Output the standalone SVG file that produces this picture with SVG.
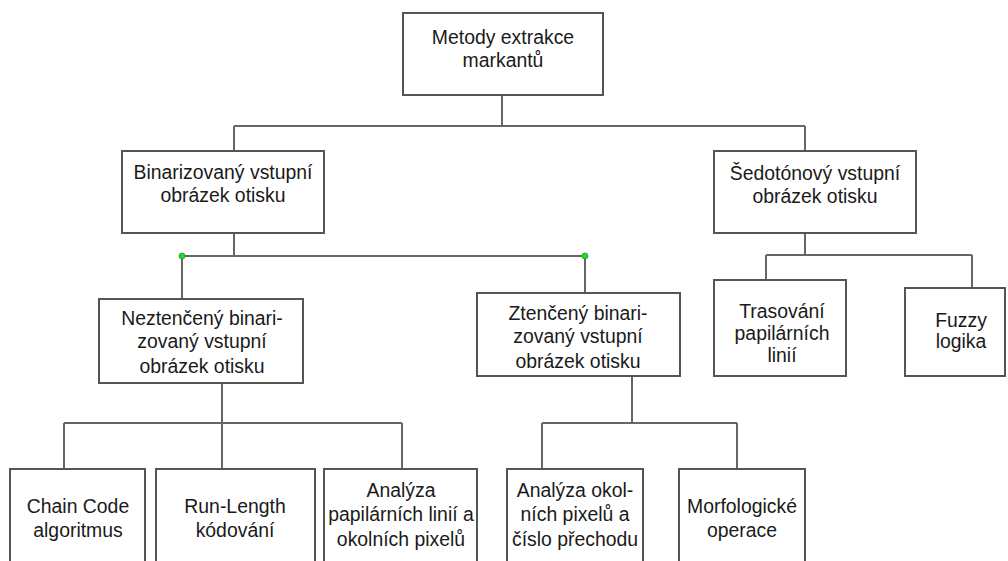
<svg xmlns="http://www.w3.org/2000/svg" width="1008" height="561" viewBox="0 0 1008 561">
<style>
.box{fill:#fff;stroke:#555;stroke-width:2}
.ln{fill:none;stroke:#666;stroke-width:2}
.t{font-family:"Liberation Sans",Arial,sans-serif;font-size:19.4px;fill:#1a1a1a;text-anchor:middle}
.dot{fill:#22dd22;stroke:#3a8a3a;stroke-width:0.8}
</style>
<rect width="1008" height="561" fill="#fff"/>
<g id="connectors">
<path class="ln" d="M502 95V126M234 126H805M234 126V151M805 126V151"/>
<path class="ln" d="M234 233V256M182 256H585M182 256V299M585 256V293"/>
<path class="ln" d="M805 233V255M766 255H972M766 255V280M972 255V288"/>
<path class="ln" d="M222 383V423M64 423H402M64 423V469M222 423V469M402 423V469"/>
<path class="ln" d="M632 376V423M542 423H737M542 423V469M737 423V469"/>
<circle class="dot" cx="182" cy="256" r="3"/>
<circle class="dot" cx="585" cy="256" r="3"/>
</g>
<g id="n-root"><rect class="box" x="403" y="13" width="200" height="82"/>
<text class="t" x="503" y="44">Metody extrakce</text><text class="t" x="503" y="67">markantů</text></g>
<g id="n-bin"><rect class="box" x="122" y="151" width="202" height="82"/>
<text class="t" x="223" y="179">Binarizovaný vstupní</text><text class="t" x="223" y="202">obrázek otisku</text></g>
<g id="n-sed"><rect class="box" x="714" y="151" width="202" height="82"/>
<text class="t" x="815" y="180">Šedotónový vstupní</text><text class="t" x="815" y="203">obrázek otisku</text></g>
<g id="n-tras"><rect class="box" x="714" y="280" width="132" height="96"/>
<text class="t" x="782" y="318">Trasování</text><text class="t" x="782" y="340">papilárních</text><text class="t" x="782" y="362">linií</text></g>
<g id="n-fuzzy"><rect class="box" x="905" y="288" width="100" height="88"/>
<text class="t" x="961" y="327">Fuzzy</text><text class="t" x="961" y="348">logika</text></g>
<g id="n-nez"><rect class="box" x="99" y="299" width="204" height="84"/>
<text class="t" x="202" y="325">Neztenčený binari-</text><text class="t" x="202" y="348">zovaný vstupní</text><text class="t" x="202" y="373">obrázek otisku</text></g>
<g id="n-ztn"><rect class="box" x="477" y="293" width="203" height="83"/>
<text class="t" x="578" y="320">Ztenčený binari-</text><text class="t" x="578" y="343">zovaný vstupní</text><text class="t" x="578" y="368">obrázek otisku</text></g>
<g id="n-chain"><rect class="box" x="10" y="469" width="135" height="110"/>
<text class="t" x="78" y="513">Chain Code</text><text class="t" x="78" y="537">algoritmus</text></g>
<g id="n-run"><rect class="box" x="156" y="469" width="159" height="110"/>
<text class="t" x="235" y="513">Run-Length</text><text class="t" x="235" y="537">kódování</text></g>
<g id="n-anal"><rect class="box" x="324" y="469" width="153" height="110"/>
<text class="t" x="401" y="497">Analýza</text><text class="t" x="401" y="521">papilárních linií a</text><text class="t" x="401" y="546">okolních pixelů</text></g>
<g id="n-okol"><rect class="box" x="507" y="469" width="136" height="110"/>
<text class="t" x="575" y="497">Analýza okol-</text><text class="t" x="575" y="521">ních pixelů a</text><text class="t" x="575" y="546">číslo přechodu</text></g>
<g id="n-morf"><rect class="box" x="679" y="469" width="126" height="110"/>
<text class="t" x="742" y="513">Morfologické</text><text class="t" x="742" y="537">operace</text></g>
</svg>
